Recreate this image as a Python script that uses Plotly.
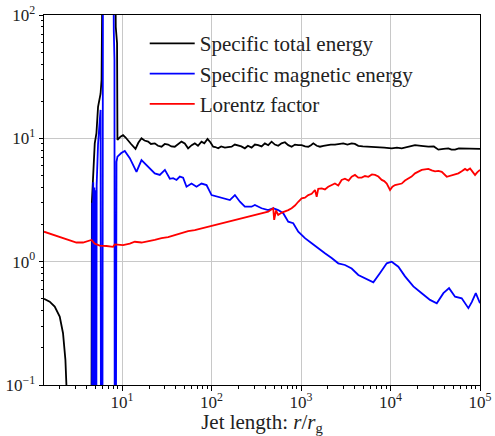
import plotly.graph_objects as go

# ---------------- data ----------------
# Specific total energy (black)
x_total = [1.341, 1.553, 1.767, 2.01, 2.188, 2.327, 2.388, 2.47, 4.50, 4.55, 4.60,
           4.95, 5.17, 5.39, 5.63, 5.75, 5.90, 6.13, 8.29, 8.50, 8.79, 8.88,
           9.6, 10.26, 10.9, 11.67, 12.6, 14.13, 15.2, 16.48, 17.8, 19.54, 21.0, 23.2,
           25.2, 27.6, 30.0, 32.7, 35.5, 38.8, 42.0, 46.1, 50.2, 54.7, 60.0, 65.0,
           70.5, 77.2, 83.0, 90.2, 97.0, 104.2, 110.0, 118.6, 128.0, 140.9, 153.0,
           167.5, 182.0, 198.6, 215.0, 235.6, 255.0, 280.0, 305.0, 331.8, 362.0,
           394.5, 430.0, 468.8, 510.0, 555.6, 605.0, 660.7, 720.0, 785.0, 855.0,
           931.0, 1016, 1110, 1205, 1290, 1371, 1500, 1627, 1780, 1931, 2150, 2393,
           2650, 2963, 3300, 3680, 4000, 4365, 4900, 5651, 6400, 7311, 8500, 10310,
           11800, 13340, 15500, 18790, 22000, 26470, 30500, 34270, 39000, 44340,
           48000, 52630, 58000, 68060, 75000, 88050, 100000]
y_total = [0.50, 0.474, 0.432, 0.359, 0.263, 0.16, 0.10, 0.03, 0.001, 0.001, 3.06,
           9.1, 11.0, 18.0, 22.4, 23.0, 30.0, 1000, 1000, 80.0, 59.0, 9.7,
           10.3, 10.6, 10.2, 9.7, 9.0, 8.2, 9.2, 10.0, 9.6, 9.4, 9.0, 9.1,
           8.7, 8.55, 9.0, 8.9, 8.6, 8.55, 9.0, 9.4, 9.1, 8.3, 8.8, 9.1,
           8.7, 9.4, 9.1, 9.87, 9.3, 8.55, 8.5, 8.3, 8.6, 8.4, 8.5,
           8.55, 8.9, 8.8, 8.6, 8.3, 8.7, 8.4, 8.9, 8.8, 8.6,
           9.1, 8.8, 9.4, 8.9, 8.7, 9.1, 9.3, 8.8, 8.55, 8.9,
           8.8, 8.8, 8.6, 8.55, 8.8, 9.1, 8.7, 8.55, 8.7, 8.8, 8.9, 8.9,
           9.0, 9.1, 8.9, 9.1, 9.0, 8.7, 8.6, 8.55, 8.6, 8.55, 8.4, 8.3,
           8.4, 8.3, 8.5, 8.8, 8.7, 8.55, 8.6, 8.1, 8.2, 8.3,
           8.1, 8.1, 8.3, 8.3, 8.25, 8.3, 8.2]

# Specific magnetic energy (blue)
x_mag = [1.341, 4.60, 4.64, 4.69, 4.76, 4.82, 4.90, 4.97, 5.05, 5.12, 5.20,
         5.39, 5.63, 5.75, 5.84, 6.00, 6.13, 7.93, 8.08, 8.22, 8.30, 8.45, 8.66,
         8.88, 9.8, 10.72, 12.2, 14.49, 16.48, 19.54, 23.2, 26.4, 30.1, 34.2,
         37.2, 40.6, 44.2, 48.1, 52.5, 59.7, 67.9, 77.2, 87.9, 100.0, 118.6,
         140.9, 160.3, 182.4, 207.5, 235.6, 280.0, 304.8, 362.2, 429.5, 488.6,
         555.6, 632.4, 719.4, 818.0, 931.0, 1106, 1315, 1557, 1849, 2198, 2606,
         3096, 3680, 4365, 5188, 6427, 7638, 9073, 10310, 12230, 14520, 17990,
         22320, 27650, 32880, 38980, 45100, 52630, 62500, 74160, 80880, 89740,
         100000]
y_mag = [0.001, 0.001, 3.0, 0.001, 4.4, 0.001, 4.0, 0.001, 3.8, 0.001, 4.2,
         9.0, 14.0, 17.0, 0.001, 0.001, 1000, 1000, 75.0, 43.0, 0.001, 0.001, 6.45,
         7.1, 7.6, 7.9, 6.9, 5.35, 6.65, 5.9, 5.2, 5.05, 5.55, 4.7,
         4.75, 4.6, 4.9, 4.8, 4.05, 4.3, 4.05, 4.3, 4.18, 3.47, 3.36,
         3.26, 3.16, 3.47, 3.06, 2.79, 2.79, 2.88, 2.71, 2.62, 2.71,
         2.62, 2.47, 2.11, 2.05, 1.75, 1.55, 1.41, 1.28, 1.17, 1.07, 0.97,
         0.94, 0.88, 0.78, 0.73, 0.68, 0.81, 0.97, 1.0, 0.91, 0.76, 0.63,
         0.555, 0.49, 0.46, 0.555, 0.61, 0.52, 0.505, 0.42, 0.47, 0.555,
         0.46]

# Lorentz factor (red)
x_lor = [1.341, 2.01, 3.09, 3.66, 4.35, 4.55, 4.95, 5.63, 6.69, 7.93, 8.29,
         10.26, 12.2, 13.87, 16.5, 19.54, 23.2, 27.6, 32.7, 38.8, 46.1, 54.7,
         65.0, 77.2, 90.0, 108.9, 128.0, 153.5, 182.0, 216.7, 255.0, 304.8,
         360.0, 429.5, 488.6, 501.0, 525.0, 555.6, 610.0, 660.7, 720.0, 785.0,
         855.0, 931.0, 1016, 1106, 1205, 1315, 1432, 1496, 1557, 1700, 1849,
         2013, 2198, 2393, 2606, 2843, 3096, 3400, 3680, 4008, 4365, 4764, 5188,
         5651, 6200, 6713, 7311, 7975, 8500, 9073, 9880, 10500, 11230, 12230,
         13340, 14520, 15810, 17200, 18790, 20500, 22320, 24300, 26470, 28900,
         31460, 34270, 37400, 42530, 45000, 48400, 52630, 57300, 62500, 68060,
         72000, 77450, 82000, 88050, 93000, 100000]
y_lor = [1.75, 1.59, 1.43, 1.43, 1.48, 1.50, 1.40, 1.35, 1.34, 1.32, 1.38,
         1.36, 1.40, 1.45, 1.43, 1.46, 1.50, 1.55, 1.58, 1.64, 1.70, 1.77,
         1.80, 1.86, 1.90, 1.98, 2.04, 2.11, 2.18, 2.25, 2.33, 2.39,
         2.47, 2.54, 2.71, 2.18, 2.60, 2.39, 2.50, 2.54, 2.62, 2.71,
         2.85, 3.06, 3.26, 3.30, 3.47, 3.55, 3.81, 3.36, 3.90, 3.93, 3.85,
         4.05, 4.20, 4.30, 4.15, 4.60, 4.70, 4.55, 4.88, 5.05, 4.80, 4.80, 4.95,
         4.88, 5.10, 5.05, 4.90, 4.60, 4.50, 4.30, 3.81, 4.05, 4.18, 4.25,
         4.30, 4.55, 4.70, 4.90, 5.20, 5.35, 5.55, 5.60, 5.65, 5.50,
         5.40, 5.45, 5.35, 4.88, 4.95, 5.00, 5.10, 5.20, 5.40, 5.65,
         5.50, 5.70, 5.40, 5.05, 5.30, 5.55]

x_tick_vals = [10, 100, 1000, 10000, 100000]
x_tick_text = ["10<sup>1</sup>", "10<sup>2</sup>", "10<sup>3</sup>", "10<sup>4</sup>", "10<sup>5</sup>"]
y_tick_vals = [0.1, 1, 10, 100]
y_tick_text = ["10<sup>\u22121</sup>", "10<sup>0</sup>", "10<sup>1</sup>", "10<sup>2</sup>"]
x_minor_vals = [m * 10 ** e for e in range(0, 5) for m in range(2, 10)]
y_minor_vals = [m * 10 ** e for e in range(-1, 2) for m in range(2, 10)]

names = ["Specific total energy", "Specific magnetic energy", "Lorentz factor"]
colors = ["black", "blue", "red"]

FONT = "Liberation Serif"

fig = go.Figure()
for i, (xs, ys) in enumerate([(x_total, y_total), (x_mag, y_mag), (x_lor, y_lor)]):
    fig.add_trace(go.Scatter(x=xs, y=ys, mode="lines", name=names[i],
                             legendgroup=f"g{i}",
                             line=dict(color=colors[i], width=1.8)))

axis_common = dict(
    type="log", showline=True, linecolor="black", linewidth=1, mirror=True,
    ticks="outside", ticklen=4.5, tickwidth=1, tickcolor="black",
    showgrid=True, gridcolor="#c8c8c8", gridwidth=1, zeroline=False,
    automargin=False,
    tickfont=dict(family=FONT, size=17, color="#222"),
)

fig.update_xaxes(**axis_common, range=[0.1275, 5], tickmode="array",
                 tickvals=x_tick_vals, ticktext=x_tick_text, ticklabelstandoff=-3,
                 minor=dict(tickmode="array", tickvals=x_minor_vals, ticks="outside",
                            ticklen=2.5, tickcolor="black", showgrid=False),
                 title=dict(text="Jet length: <i>r</i>/<i>r</i><sub>g</sub>",
                            font=dict(family=FONT, size=21, color="#222"), standoff=6))
fig.update_yaxes(**axis_common, range=[-1, 2], tickmode="array",
                 tickvals=y_tick_vals, ticktext=y_tick_text,
                 minor=dict(tickmode="array", tickvals=y_minor_vals, ticks="outside",
                            ticklen=2.5, tickcolor="black", showgrid=False))

fig.update_layout(
    width=495, height=436,
    margin=dict(l=44, r=15, t=15, b=51),
    paper_bgcolor="white", plot_bgcolor="white",
    showlegend=True,
    legend=dict(x=0.231, y=0.978, xanchor="left", yanchor="top",
                bgcolor="rgba(255,255,255,0)", borderwidth=0,
                font=dict(family=FONT, size=21, color="#222"),
                traceorder="grouped", tracegroupgap=0, itemwidth=45),
)

fig.write_html("out.html", config={"displayModeBar": False},
               post_script="document.body.style.margin='0';")
